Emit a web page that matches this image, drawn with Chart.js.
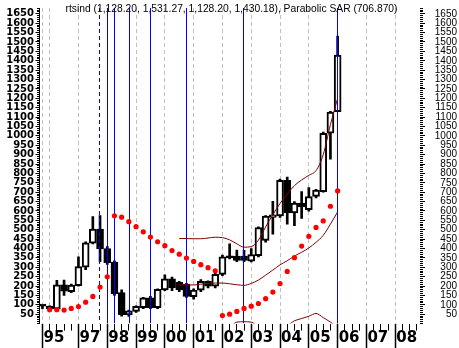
<!DOCTYPE html>
<html>
<head>
<meta charset="utf-8">
<script src="https://cdn.jsdelivr.net/npm/chart.js@4.4.1/dist/chart.umd.min.js"></script>
<style>
html,body{margin:0;padding:0;background:#ffffff;overflow:hidden;}
canvas{display:block;}
</style>
</head>
<body>
<canvas id="chart" width="459" height="348"></canvas>
<script>
// ---- data (quarter index: 0 = 1995 Q4, 1 = 1996 Q1, ... 41 = 2006 Q1) ----
const quarters = [0,1,2,3,4,5,6,7,8,9,10,11,12,13,14,15,16,17,18,19,20,21,22,23,24,25,26,27,28,29,30,31,32,33,34,35,36,37,38,39,40,41];
const qOpen  = [96, 93, 78, 206, 170, 202, 300, 428, 503, 400, 328, 165, 47, 65, 85, 137, 85, 180, 238, 220, 210, 143, 178, 225, 200, 262, 355, 360, 360, 332, 362, 443, 565, 573, 763, 590, 642, 607, 677, 703, 1014, 1128.20];
const qHigh  = [96, 94, 230, 232, 210, 355, 435, 570, 575, 410, 335, 180, 72, 95, 140, 145, 185, 260, 248, 225, 215, 185, 235, 228, 270, 365, 425, 392, 390, 400, 515, 575, 651, 770, 780, 650, 703, 725, 715, 1020, 1130, 1531.27];
const qLow   = [80, 76, 76, 150, 165, 200, 287, 425, 330, 315, 150, 40, 38, 60, 80, 80, 80, 175, 175, 170, 140, 130, 170, 190, 190, 255, 345, 330, 330, 328, 355, 434, 477, 565, 530, 521, 560, 599, 670, 700, 876, 1128.20];
const qClose = [93, 78, 206, 173, 205, 304, 430, 503, 398, 325, 160, 47, 68, 92, 137, 85, 183, 238, 190, 180, 145, 178, 225, 200, 262, 355, 350, 337, 337, 368, 512, 573, 580, 763, 590, 642, 622, 677, 711, 1014, 1127, 1430.18];

const sarQuarters = [1,2,3,4,5,6,7,8,9,10,11,12,13,14,15,16,17,18,19,20,21,22,23,24,25,26,27,28,29,30,31,32,33,34,35,36,37,38,39,40,41];
const sarValues   = [74, 74, 72, 81, 91, 114, 145, 195, 249, 574, 567, 543, 516, 489, 461, 436, 415, 389, 370, 349, 331, 314, 298, 281, 43, 50, 65, 81, 93, 107, 133, 168, 213, 278, 351, 413, 465, 512, 547, 625, 706.87];

const bandQuarters = [19,20,21,22,23,24,25,26,27,28,29,30,31,32,33,34,35,36,37,38,39,40,41];
const bandUpper  = [453, 453, 452, 452, 456, 460, 458, 446, 425, 407, 410, 445, 515, 580, 640, 690, 735, 765, 790, 815, 900, 1060, 1200];
const bandMiddle = [207, 206, 206, 210, 214, 216, 216, 212, 207, 204, 214, 232, 258, 285, 313, 335, 360, 380, 403, 433, 470, 530, 595];
const bandLower  = [-40, -40, -40, -32, -28, -28, -26, -20, 8, 10, 8, -15, -20, -15, -14, -10, 15, 27, 39, 54, 32, 8, -20];

const eventLines  = [7.9, 9, 10, 12.05, 15, 19.95, 27.9, 40.95];
const eventDashed = [true, false, false, false, false, false, false, false];

const yearTickPos    = [0, 1, 5, 9, 13, 17, 21, 25, 29, 33, 37, 41, 45, 49];
const yearTickLabels = ['95', '', '97', '98', '99', '00', '01', '02', '03', '04', '05', '06', '07', '08'];
const quarterTickPos = [1,2,3,4,5,6,7,8,9,10,11,12,13,14,15,16,17,18,19,20,21,22,23,24,25,26,27,28,29,30,31,32,33,34,35,36,37,38,39,40,41,42,43,44,45,46,47,48,49,50,51,52];
const priceTickLabels = [50,100,150,200,250,300,350,400,450,500,550,600,650,700,750,800,850,900,950,1000,1050,1100,1150,1200,1250,1300,1350,1400,1450,1500,1550,1600,1650];

const titleText = 'rtsind (1,128.20, 1,531.27, 1,128.20, 1,430.18), Parabolic SAR (706.870)';

// ---- layout constants ----
const X_MIN = -0.41, X_MAX = 52.44, Y_MIN = 0, Y_MAX = 1681;
const minorPriceTicks = [];
for (let v = 0; v <= 1680; v += 10) minorPriceTicks.push(v);

const BODY_INDEX = 2;

const eventLinePlugin = {
  id: 'eventLinePlugin',
  afterDatasetDraw(chart, args) {
    if (args.index !== BODY_INDEX) return;
    const ctx = chart.ctx, xs = chart.scales.x, a = chart.chartArea;
    ctx.save();
    ctx.beginPath(); ctx.rect(a.left, a.top, a.right - a.left, a.bottom - a.top); ctx.clip();
    ctx.strokeStyle = '#0000ff'; ctx.lineWidth = 1;
    eventLines.forEach((v, i) => {
      const px = Math.round(xs.getPixelForValue(v)) + 0.5;
      ctx.setLineDash(eventDashed[i] ? [4, 3] : []);
      ctx.beginPath(); ctx.moveTo(px, a.top); ctx.lineTo(px, a.bottom); ctx.stroke();
    });
    ctx.restore();
  }
};

const titlePlugin = {
  id: 'titlePlugin',
  afterDraw(chart) {
    const ctx = chart.ctx, a = chart.chartArea;
    ctx.save();
    ctx.font = '10.3px "Liberation Sans", Arial, sans-serif';
    ctx.fillStyle = '#000';
    ctx.textBaseline = 'alphabetic';
    ctx.textAlign = 'left';
    ctx.fillText(titleText, a.left + 26, 11.7);
    ctx.restore();
  }
};

Chart.defaults.font.family = '"Liberation Sans", Arial, sans-serif';

new Chart(document.getElementById('chart'), {
  type: 'bar',
  data: {
    datasets: [
      { type: 'scatter', label: 'Parabolic SAR', order: 0,
        data: sarQuarters.map((q, i) => ({x: q, y: sarValues[i]})),
        pointStyle: 'circle', pointRadius: 2.6, backgroundColor: '#ff0000', borderWidth: 0 },
      { type: 'line', label: 'upper', order: 1,
        data: bandQuarters.map((q, i) => ({x: q, y: bandUpper[i]})),
        borderColor: '#800000', borderWidth: 1, pointRadius: 0, cubicInterpolationMode: 'monotone', fill: false },
      { type: 'bar', label: 'body', order: 2, grouped: false,
        data: quarters.map((q, i) => ({x: q, y: [qOpen[i], qClose[i]]})),
        backgroundColor: c => (qClose[c.dataIndex] >= qOpen[c.dataIndex] ? '#ffffff' : '#000000'),
        borderColor: '#000000', borderWidth: 2, borderSkipped: false, barThickness: 7, minBarLength: 2 },
      { type: 'line', label: 'middle', order: 1,
        data: bandQuarters.map((q, i) => ({x: q, y: bandMiddle[i]})),
        borderColor: '#800000', borderWidth: 1, pointRadius: 0, cubicInterpolationMode: 'monotone', fill: false },
      { type: 'line', label: 'lower', order: 1,
        data: bandQuarters.map((q, i) => ({x: q, y: bandLower[i]})),
        borderColor: '#800000', borderWidth: 1, pointRadius: 0, cubicInterpolationMode: 'monotone', fill: false },
      { type: 'bar', label: 'wick', order: 3, grouped: false,
        data: quarters.map((q, i) => ({x: q, y: [qLow[i], qHigh[i]]})),
        backgroundColor: '#000000', borderWidth: 0, barThickness: 2 }
    ]
  },
  options: {
    responsive: false, animation: false, events: [],
    layout: { padding: { left: 0, right: 2, top: 0, bottom: 0 } },
    plugins: { legend: { display: false }, tooltip: { enabled: false }, title: { display: false } },
    scales: {
      x: {
        type: 'linear', position: 'bottom', weight: 2, min: X_MIN, max: X_MAX, offset: false, bounds: 'data',
        afterBuildTicks: s => { s.ticks = yearTickPos.map(v => ({value: v})); },
        afterFit: s => { s.height = 24.4; },
        grid: { offset: false, drawOnChartArea: true, drawTicks: true, tickLength: 25, color: '#c0c0c0', lineWidth: 1,
                tickColor: c => (yearTickLabels[c.index] ? '#000000' : 'rgba(0,0,0,0)'), tickWidth: 1.5 },
        border: { display: false, dash: [4, 3] },
        ticks: { autoSkip: false, maxRotation: 0, minRotation: 0, align: 'start', labelOffset: 1, padding: -19.3,
                 color: '#000', font: { family: 'DejaVu Sans', weight: 'bold', size: 15 },
                 callback: (v, i) => yearTickLabels[i] }
      },
      xq: {
        type: 'linear', position: 'bottom', weight: 1, min: X_MIN, max: X_MAX, offset: false, bounds: 'data',
        afterBuildTicks: s => { s.ticks = quarterTickPos.map(v => ({value: v})); },
        afterFit: s => { s.height = 0; },
        grid: { offset: false, drawOnChartArea: false, drawTicks: true, tickLength: 7, tickColor: '#000', tickWidth: 1 },
        border: { display: false },
        ticks: { display: false, autoSkip: false }
      },
      y: {
        type: 'linear', position: 'left', weight: 2, min: Y_MIN, max: Y_MAX, bounds: 'data', beginAtZero: false,
        afterBuildTicks: s => { s.ticks = priceTickLabels.map(v => ({value: v})); },
        afterFit: s => { s.width = 39.5; },
        grid: { drawOnChartArea: false, drawTicks: true, tickLength: 4, tickColor: '#000', tickWidth: 1 },
        border: { display: true, color: '#000', width: 1 },
        ticks: { autoSkip: false, padding: 1.5, color: '#000', font: { family: 'DejaVu Sans', weight: 'bold', size: 10 },
                 callback: v => String(v) }
      },
      ym: {
        type: 'linear', position: 'left', weight: 1, min: Y_MIN, max: Y_MAX, bounds: 'data',
        afterBuildTicks: s => { s.ticks = minorPriceTicks.map(v => ({value: v})); },
        afterFit: s => { s.width = 0; },
        grid: { drawOnChartArea: false, drawTicks: true, tickLength: 2.5, tickColor: '#000', tickWidth: 1 },
        border: { display: false },
        ticks: { display: false, autoSkip: false }
      },
      yr: {
        type: 'linear', position: 'right', weight: 2, min: Y_MIN, max: Y_MAX, bounds: 'data',
        afterBuildTicks: s => { s.ticks = priceTickLabels.map(v => ({value: v})); },
        afterFit: s => { s.width = 37; },
        grid: { drawOnChartArea: false, drawTicks: true, tickLength: 5, tickColor: '#000', tickWidth: 1 },
        border: { display: false },
        ticks: { autoSkip: false, crossAlign: 'far', padding: 2, color: '#000', font: { family: 'Liberation Sans', size: 10 },
                 callback: v => String(v) }
      },
      yrm: {
        type: 'linear', position: 'right', weight: 1, min: Y_MIN, max: Y_MAX, bounds: 'data',
        afterBuildTicks: s => { s.ticks = minorPriceTicks.map(v => ({value: v})); },
        afterFit: s => { s.width = 0; },
        grid: { drawOnChartArea: false, drawTicks: true, tickLength: 3, tickColor: '#000', tickWidth: 1 },
        border: { display: false },
        ticks: { display: false, autoSkip: false }
      }
    }
  },
  plugins: [eventLinePlugin, titlePlugin]
});
</script>
</body>
</html>
